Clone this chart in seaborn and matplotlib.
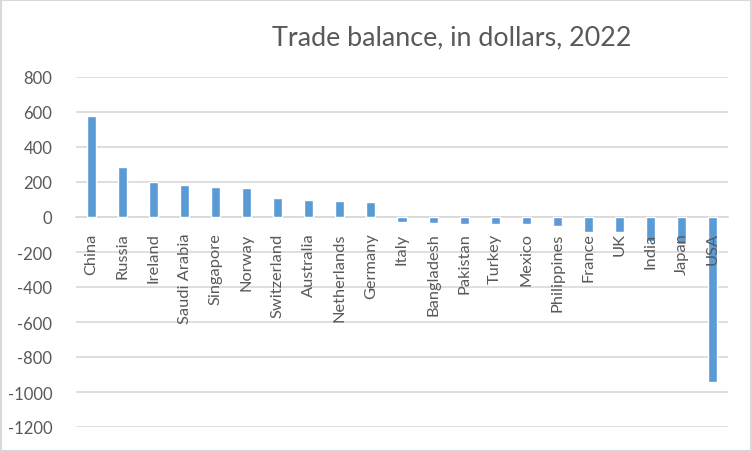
import matplotlib
matplotlib.use("Agg")
import matplotlib.pyplot as plt
import seaborn as sns
import pandas as pd
from matplotlib.patches import Rectangle

countries = ["China", "Russia", "Ireland", "Saudi Arabia", "Singapore", "Norway",
             "Switzerland", "Australia", "Netherlands", "Germany", "Italy",
             "Bangladesh", "Pakistan", "Turkey", "Mexico", "Philippines",
             "France", "UK", "India", "Japan", "USA"]
balance = [577, 284, 200, 181, 170, 164, 107, 95, 90, 84, -27, -34, -38, -38, -38,
           -49, -87, -85, -135, -154, -943]
y_ticks = [800, 600, 400, 200, 0, -200, -400, -600, -800, -1000, -1200]
title = "Trade balance, in dollars, 2022"

sns.set_theme(style="white")
plt.rcParams["font.family"] = ["Lato", "DejaVu Sans"]
text_color = "#595959"
grid_color = "#D9D9D9"

df = pd.DataFrame({"country": countries, "balance": balance})

fig = plt.figure(figsize=(7.52, 4.52), dpi=100)
ax = fig.add_axes([76 / 752, (452 - 428) / 452, (728 - 76) / 752, 350 / 452])

sns.barplot(data=df, x="country", y="balance", order=countries, color="#5B9BD5",
            saturation=1, width=0.29, ax=ax, zorder=3)

ax.set_ylim(-1200, 800)
ax.set_xlim(-0.5, len(countries) - 0.5)
ax.set_yticks(y_ticks)
ax.set_yticklabels([str(v) for v in y_ticks], fontsize=12, color=text_color)
ax.yaxis.grid(True, color=grid_color, linewidth=1.2)
ax.tick_params(axis="y", length=0, pad=17)
ax.tick_params(axis="x", length=0, pad=11)
for s in ["left", "right", "top"]:
    ax.spines[s].set_visible(False)
ax.spines["bottom"].set_position(("data", 0))
ax.spines["bottom"].set_color(grid_color)
ax.spines["bottom"].set_linewidth(1.2)
ax.spines["bottom"].set_zorder(1)
ax.set_xticks(range(len(countries)))
ax.set_xticklabels(countries, rotation=90, ha="center", va="top",
                   fontsize=11.8, color=text_color)
ax.set_xlabel("")
ax.set_ylabel("")
# gridlines behind the bars, category labels in front of them
ax.yaxis.set_zorder(0.5)
ax.xaxis.set_zorder(5)

fig.text(452 / 752, 1 - 38 / 452, title, ha="center", va="center",
         fontsize=19.4, color=text_color)

fig.patches.append(Rectangle((0.001, 0.001), 0.998, 0.997, transform=fig.transFigure,
                             fill=False, edgecolor=grid_color, linewidth=1.5))

fig.savefig("out.png", dpi=100)
